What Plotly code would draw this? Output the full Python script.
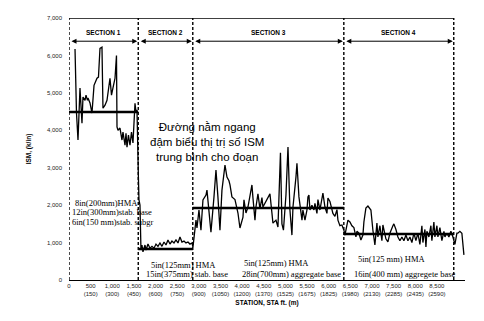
import plotly.graph_objects as go

# ---- data ----
station_ft = [
    139, 173, 208, 254, 300, 323, 370, 393, 427, 439, 485, 531, 578, 624, 647, 681, 716, 762, 785,
    832, 878, 947, 982, 1016, 1063, 1097, 1109, 1132, 1178, 1224, 1247, 1294, 1317, 1340, 1374,
    1409, 1444, 1478, 1525, 1548, 1571,
    1605, 1617, 1640, 1663, 1686, 1709, 1756, 1779, 1825, 1871, 1917, 1964, 2010, 2056, 2102,
    2148, 2195, 2241, 2287, 2333, 2379, 2426, 2472, 2518, 2564, 2610, 2657, 2703, 2749, 2795, 2841,
    2864, 2934, 2957, 3003, 3049, 3095, 3165, 3188, 3234, 3280, 3350, 3396, 3442, 3488, 3534, 3604,
    3650, 3696, 3720, 3765, 3835, 3904, 3950, 4020, 4043, 4089, 4135, 4227, 4250, 4297, 4320, 4366,
    4412, 4458, 4481, 4574, 4643, 4689, 4712, 4782, 4828, 4886, 4920, 4955, 5013, 5060, 5105, 5151,
    5175, 5244, 5267, 5313, 5360, 5383, 5405, 5452, 5498, 5521, 5544, 5567, 5613, 5660, 5683, 5729,
    5752, 5798, 5867, 5914, 5960, 5983, 6029, 6075, 6098, 6145, 6191, 6214, 6260, 6306, 6352,
    6376, 6422, 6445, 6491, 6537, 6583, 6630, 6653, 6699, 6745, 6791, 6814, 6860, 6907, 6976, 7022,
    7045, 7068, 7115, 7138, 7184, 7230, 7253, 7299, 7322, 7369, 7415, 7484, 7507, 7554, 7600, 7646,
    7692, 7738, 7785, 7831, 7877, 7923, 7969, 8016, 8062, 8108, 8154, 8177, 8224, 8247, 8270, 8316,
    8362, 8385, 8431, 8455, 8501, 8524, 8570, 8616, 8663, 8686, 8732, 8778, 8824, 8871, 8894, 8917,
    8963, 8986, 9032, 9078, 9125,
]
ism = [
    6170, 4460, 3740, 5130, 4190, 4890, 4800, 4940, 4800, 4860, 4730, 4460, 5200, 5340, 5390, 5420, 6190, 6220, 4590,
    4670, 4800, 5390, 4940, 5130, 5390, 6000, 4090, 4000, 4060, 3740, 3950, 3600, 3920, 3550, 3870,
    3600, 3950, 3660, 4720, 4490, 4540,
    2670, 2140, 2000, 800, 935, 750, 935, 800, 960, 850, 900, 850, 960, 900, 990,
    900, 1015, 935, 1070, 960, 1040, 990, 1070, 990, 1150, 1015, 1040, 990, 1015, 960, 990,
    880, 1600, 1390, 1870, 1330, 2140, 2270, 2400, 1870, 1280, 2220, 2940, 2200, 1330, 2400, 3070,
    2750, 2650, 2540, 2220, 2150, 1790, 1390, 1680, 2140, 1790, 1950, 2540, 2200, 1600, 1950, 2300,
    1900, 2200, 1950, 2150, 2300, 1790, 1520, 1600, 1415, 3400, 1500, 1330, 2270, 3550, 1870, 1200,
    1950, 2750, 3120, 2220, 1790, 1600, 1870, 1600, 1870, 2220, 2270, 1870, 2000, 1870, 2050, 1780,
    2150, 1870, 2320, 1950, 1780, 2190, 2100, 1900, 1780, 1700, 1880, 1600, 1450, 1470, 1330,
    1200, 1450, 1600, 1550, 1450, 1400, 1150, 1300, 1250, 1070, 1200, 1550, 1920, 1975, 1870, 1330,
    1100, 935, 1520, 1150, 1450, 1050, 1470, 1250, 1100, 1020, 1250, 1450, 1500, 1350, 1150, 1050,
    1150, 1050, 1200, 1050, 1150, 1000, 1250, 1050, 1250, 950, 1450, 1000, 1350, 880, 1300, 1150,
    1450, 1050, 1550, 1150, 1450, 1150, 1400, 1050, 1300, 1150, 1250, 1150, 1300, 1150, 1000, 950,
    1250, 1250, 1300, 1250, 670,
]

section_names = ["SECTION 1", "SECTION 2", "SECTION 3", "SECTION 4"]
section_bounds = [0, 1600, 2860, 6350, 8890]
section_means = [4490, 830, 1925, 1230]

x_tickvals = [0, 500, 1000, 1500, 2000, 2500, 3000, 3500, 4000, 4500, 5000, 5500, 6000, 6500, 7000, 7500, 8000, 8500]
x_ticktext = ["0", "500<br>(150)", "1,000<br>(300)", "1,500<br>(450)", "2,000<br>(600)", "2,500<br>(750)",
              "3,000<br>(900)", "3,500<br>(1050)", "4,000<br>(1200)", "4,500<br>(1370)", "5,000<br>(1525)",
              "5,500<br>(1675)", "6,000<br>(1825)", "6,500<br>(1980)", "7,000<br>(2130)", "7,500<br>(2285)",
              "8,000<br>(2435)", "8,500<br>(2590)"]
y_tickvals = [0, 1000, 2000, 3000, 4000, 5000, 6000, 7000]
y_ticktext = ["0", "1,000", "2,000", "3,000", "4,000", "5,000", "6,000", "7,000"]

layer_texts = [
    # (x_ft, y, text)
    (92, 2050, "8in(200mm)HMA"),
    (23, 1815, "12in(300mm)stab. base"),
    (23, 1560, "6in(150 mm)stab. subgr"),
    (1840, 390, "5in(125mm) HMA"),
    (1740, 165, "15in(375mm) stab. base"),
    (3990, 454, "5in(125mm) HMA"),
    (3940, 160, "28in(700mm) aggregate base"),
    (6640, 560, "5in(125 mm) HMA"),
    (6530, 160, "16in(400 mm) aggregete base"),
]
note_text = "Đường nằm ngang<br>đậm biểu thị trị số ISM<br>trung bình cho đoạn"

# ---- figure ----
fig = go.Figure()
fig.add_trace(go.Scatter(x=station_ft, y=ism, mode="lines",
                         line=dict(color="black", width=1.3), showlegend=False, hoverinfo="skip"))

# mean lines per section
for i, m in enumerate(section_means):
    x0 = section_bounds[i]
    x1 = section_bounds[i + 1]
    fig.add_trace(go.Scatter(x=[x0, x1], y=[m, m], mode="lines",
                             line=dict(color="black", width=2.6), showlegend=False, hoverinfo="skip"))

shapes = []
# dashed vertical section boundaries (incl. left & right)
for b in section_bounds:
    shapes.append(dict(type="line", xref="x", yref="y", x0=b, x1=b, y0=0, y1=7000,
                       line=dict(color="black", width=1.4, dash="3px,2px")))
# top border
shapes.append(dict(type="line", xref="x", yref="y", x0=0, x1=section_bounds[-1], y0=7000, y1=7000,
                   line=dict(color="black", width=1.3)))

annotations = []
arrow_y = 6380
for i, name in enumerate(section_names):
    x0 = section_bounds[i]
    x1 = section_bounds[i + 1]
    annotations.append(dict(x=x1, y=arrow_y, ax=x0, ay=arrow_y, xref="x", yref="y", axref="x", ayref="y",
                            text="", showarrow=True, arrowhead=2, startarrowhead=2, arrowside="end+start",
                            arrowsize=1, startarrowsize=1, arrowwidth=1, arrowcolor="black", standoff=1,
                            startstandoff=1))
    annotations.append(dict(x=(x0 + x1) / 2, y=6600, xref="x", yref="y", text="<b>" + name + "</b>",
                            showarrow=False, font=dict(family="Liberation Sans, Arial", size=6.5, color="black")))

for (xx, yy, t) in layer_texts:
    annotations.append(dict(x=xx, y=yy, xref="x", yref="y", text=t, showarrow=False, xanchor="left",
                            yanchor="middle",
                            font=dict(family="Liberation Serif, Times New Roman", size=8.5, color="black")))

annotations.append(dict(x=3200, y=3690, xref="x", yref="y", text=note_text, showarrow=False,
                        align="center", font=dict(family="Liberation Sans, Arial", size=11.5, color="black")))

fig.update_layout(
    width=484, height=321,
    margin=dict(l=69, r=19, t=18, b=41),
    paper_bgcolor="white", plot_bgcolor="white",
    shapes=shapes, annotations=annotations,
    xaxis=dict(range=[0, 9150], tickvals=x_tickvals, ticktext=x_ticktext, showgrid=False, zeroline=False,
               showline=True, linecolor="black", linewidth=1.2, ticks="", ticklen=3,
               tickfont=dict(family="Liberation Sans, Arial", size=6, color="#222"),
               title=dict(text="<b>STATION, STA ft. (m)</b>", standoff=4,
                          font=dict(family="Liberation Sans, Arial", size=6.5, color="black"))),
    yaxis=dict(range=[0, 7000], tickvals=y_tickvals, ticktext=y_ticktext, showgrid=False, zeroline=False,
               showline=False, ticks="", ticklabelstandoff=6,
               tickfont=dict(family="Liberation Sans, Arial", size=6, color="#222"),
               title=dict(text="<b>ISM, (k/in)</b>", standoff=14,
                          font=dict(family="Liberation Sans, Arial", size=6.5, color="black"))),
)

fig.write_html("out.html")
